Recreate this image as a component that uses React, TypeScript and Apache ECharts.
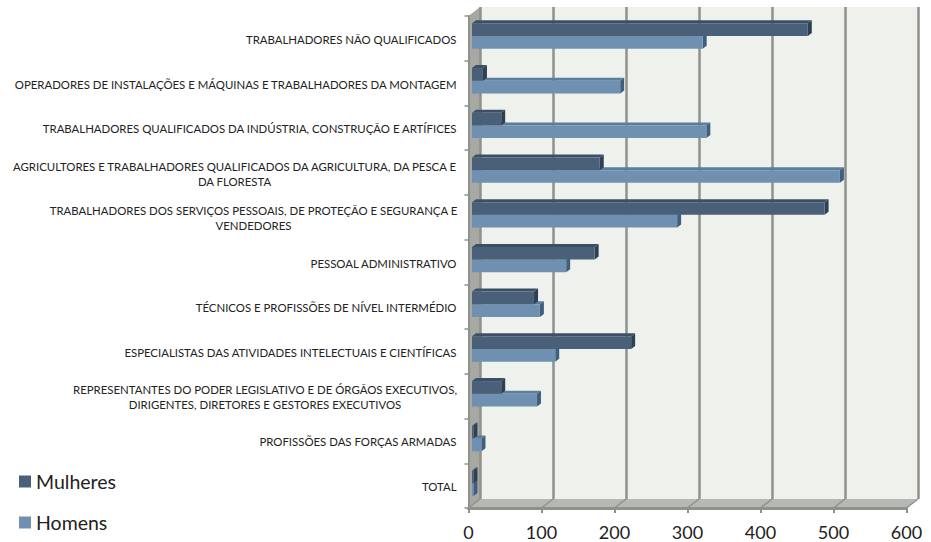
import React, { useEffect, useRef } from "react";
import * as echarts from "echarts";

const categories = [
  "TRABALHADORES NÃO QUALIFICADOS",
  "OPERADORES DE INSTALAÇÕES E MÁQUINAS E TRABALHADORES DA MONTAGEM",
  "TRABALHADORES QUALIFICADOS DA INDÚSTRIA, CONSTRUÇÃO E ARTÍFICES",
  "AGRICULTORES E TRABALHADORES QUALIFICADOS DA AGRICULTURA, DA PESCA E\nDA FLORESTA",
  "TRABALHADORES DOS SERVIÇOS PESSOAIS, DE PROTEÇÃO E SEGURANÇA E\nVENDEDORES",
  "PESSOAL ADMINISTRATIVO",
  "TÉCNICOS E PROFISSÕES DE NÍVEL INTERMÉDIO",
  "ESPECIALISTAS DAS ATIVIDADES INTELECTUAIS E CIENTÍFICAS",
  "REPRESENTANTES DO PODER LEGISLATIVO E DE ÓRGÃOS EXECUTIVOS,\nDIRIGENTES, DIRETORES E GESTORES EXECUTIVOS",
  "PROFISSÕES DAS FORÇAS ARMADAS",
  "TOTAL",
];
const mulheres = [460, 15, 40, 175, 483, 168, 85, 218, 40, 2, 2];
const homens = [316, 203, 321, 504, 281, 129, 93, 114, 89, 13, 2];
const xTicks = [0, 100, 200, 300, 400, 500, 600];

const FX0 = 468.5, FX1 = 906.5, FY0 = 16, FY1 = 508;
const DX = 11.5, DY = 9;
const FONT = "Lato, Carlito, sans-serif";
const LABEL_SIZE = 11.4;

function bars(front: string, top: string, side: string, offset: number) {
  return (params: any, api: any) => {
    const v = api.value(0);
    const c = api.coord([v, api.value(1)]);
    const base = api.coord([0, api.value(1)]);
    const band = api.size([0, 1])[1];
    const h = band * 0.284;
    const x0 = base[0] + 3.5;
    const x1 = c[0] + 3.5;
    const yc = c[1] - 2.4 + offset * h;
    const y0 = yc - h / 2;
    const y1 = yc + h / 2;
    const dx = 4, dy = 3;
    return {
      type: "group",
      children: [
        { type: "polygon", shape: { points: [[x0, y0], [x1, y0], [x1 + dx, y0 - dy], [x0 + dx, y0 - dy]] }, style: { fill: top } },
        { type: "polygon", shape: { points: [[x1, y0], [x1 + dx, y0 - dy], [x1 + dx, y1 - dy], [x1, y1]] }, style: { fill: side } },
        { type: "rect", shape: { x: x0, y: y0, width: x1 - x0, height: h }, style: { fill: front } },
      ],
    };
  };
}

export default function App() {
  const ref = useRef<HTMLDivElement>(null);
  useEffect(() => {
    const chart = echarts.init(ref.current!, undefined, { renderer: "svg" });
    const step = (FX1 - FX0) / (xTicks.length - 1);
    const richBase = { align: "center", fontSize: LABEL_SIZE, lineHeight: 15, fontFamily: FONT, color: "#222222" };
    chart.setOption({
      animation: false,
      backgroundColor: "#ffffff",
      textStyle: { fontFamily: FONT },
      legend: {
        orient: "vertical",
        left: 19,
        top: 470,
        padding: 0,
        itemGap: 18,
        itemWidth: 12,
        itemHeight: 12,
        data: [
          { name: "Mulheres", icon: "rect" },
          { name: "Homens", icon: "rect" },
        ],
        textStyle: { fontFamily: FONT, fontSize: 19.5, color: "#222222", lineHeight: 23, padding: [0, 0, 0, 0] },
      },
      grid: [
        { left: FX0, width: FX1 - FX0, top: FY0, height: FY1 - FY0 },
        { left: FX0 + DX, width: FX1 - FX0, top: FY0 - DY, height: FY1 - FY0, show: true, backgroundColor: "#eff2ec", borderWidth: 0 },
      ],
      xAxis: [
        {
          type: "value", gridIndex: 0, min: 0, max: 600, interval: 100,
          axisLine: { show: true, lineStyle: { color: "#8e918c", width: 3 } },
          axisTick: { show: true, length: 5, lineStyle: { color: "#8e918c", width: 2 } },
          axisLabel: { color: "#222222", fontSize: 18, fontFamily: FONT, margin: 17, lineHeight: 14 },
          splitLine: { show: false },
        },
        {
          type: "value", gridIndex: 1, min: 0, max: 600, interval: 100,
          axisLine: { show: false }, axisTick: { show: false }, axisLabel: { show: false },
          splitLine: { show: true, lineStyle: { color: "#8e918c", width: 2.5 } },
        },
      ],
      yAxis: [
        {
          type: "category", gridIndex: 0, inverse: true, data: categories,
          axisLine: { show: true, lineStyle: { color: "#8e918c", width: 2 } },
          axisTick: { show: true, length: 4, lineStyle: { color: "#8e918c", width: 1.5 } },
          axisLabel: {
            interval: 0, margin: 12, color: "#222222", fontSize: LABEL_SIZE, fontFamily: FONT, align: "right", lineHeight: 15,
            padding: [2, 0, 0, 0],
            formatter: (s: string) => {
              const lines = s.split("\n");
              if (lines.length === 1) return s;
              const key = s.startsWith("AGRI") ? "wide" : s.startsWith("TRAB") ? "mid" : "narrow";
              return lines.map((l) => `{${key}|${l}}`).join("\n");
            },
            rich: {
              wide: { ...richBase, width: 444 },
              mid: { ...richBase, width: 406 },
              narrow: { ...richBase, width: 383 },
            },
          },
        },
        { type: "category", gridIndex: 1, inverse: true, data: categories, show: false },
      ],
      graphic: [
        { type: "polygon", z: 0, shape: { points: [[FX0, FY0], [FX0 + DX, FY0 - DY], [FX0 + DX, FY1 - DY], [FX0, FY1]] }, style: { fill: "#a6a8a1" } },
        { type: "polygon", z: 0, shape: { points: [[FX0, FY1], [FX0 + DX, FY1 - DY], [FX1 + DX, FY1 - DY], [FX1, FY1]] }, style: { fill: "#b6b9b1" } },
        ...xTicks.map((t, i) => ({
          type: "line", z: 1,
          shape: { x1: FX0 + i * step, y1: FY1, x2: FX0 + i * step + DX, y2: FY1 - DY },
          style: { stroke: "#8e918c", lineWidth: 1.5 },
        })),
      ],
      series: [
        {
          type: "custom", name: "Homens", xAxisIndex: 0, yAxisIndex: 0, clip: false, z: 5,
          itemStyle: { color: "#6f90b0" },
          encode: { x: 0, y: 1 },
          data: homens.map((v, i) => [v, i]),
          renderItem: bars("#6f90b0", "#5d7d9c", "#3f5f7e", 0.5),
        },
        {
          type: "custom", name: "Mulheres", xAxisIndex: 0, yAxisIndex: 0, clip: false, z: 6,
          itemStyle: { color: "#4a6078" },
          encode: { x: 0, y: 1 },
          data: mulheres.map((v, i) => [v, i]),
          renderItem: bars("#4a6078", "#3b5067", "#2d4054", -0.5),
        },
      ],
    });
    return () => chart.dispose();
  }, []);
  return <div ref={ref} style={{ position: "fixed", left: 0, top: 0, width: 931, height: 542 }} />;
}
